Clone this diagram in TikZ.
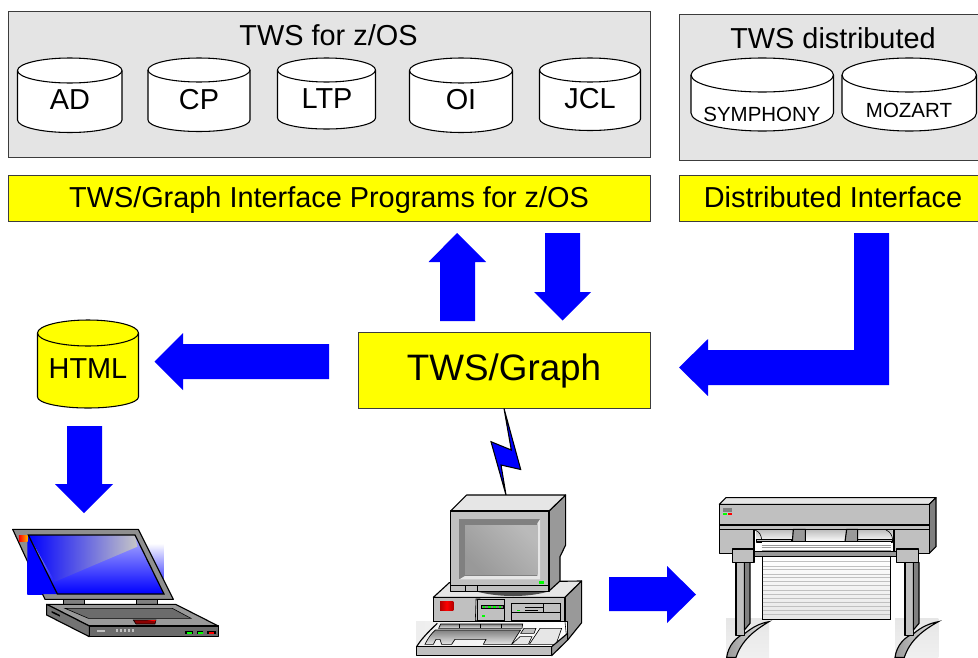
\documentclass[tikz,border=0pt]{standalone}
\usepackage{fontspec}
\setmainfont{Liberation Sans}
\usetikzlibrary{fit}
\definecolor{boxgray}{HTML}{E4E4E4}
\definecolor{bluearrow}{HTML}{0000FF}
\definecolor{brightyellow}{RGB}{255,255,0}
\definecolor{edge}{HTML}{3C3C3C}
\definecolor{faceL}{HTML}{E6E6E6}
\definecolor{faceM}{HTML}{C0C0C0}
\definecolor{faceD}{HTML}{999999}
\tikzset{
  panel/.style={draw=edge,line width=.7pt,fill=boxgray,inner sep=0pt},
  band/.style={draw=edge,line width=.7pt,fill=brightyellow,inner sep=0pt},
  lab/.style={anchor=base,inner sep=0pt,text=black,font=\fontsize{21.65}{24}\selectfont},
  biglab/.style={anchor=base,inner sep=0pt,text=black,font=\fontsize{27.6}{30}\selectfont},
  smalllab/.style={anchor=base,inner sep=0pt,text=black,font=\fontsize{15.35}{18}\selectfont},
  blockarrow/.style={fill=bluearrow,draw=none},
  hw/.style={draw=black,line width=.85pt,line join=round},
  thin hw/.style={draw=black,line width=.45pt},
}
\newcommand{\disc}[7]{% x1 x2 top mid sidebottom bottom fill
  \pgfmathsetmacro{\xm}{(#1+#2)/2}
  \pgfmathsetmacro{\kx}{.5*(#2-#1)*.55}
  \pgfmathsetmacro{\ka}{#4-.55*(#4-#3)}
  \pgfmathsetmacro{\kb}{#4+.55*(#4-#3)}
  \pgfmathsetmacro{\eb}{2*#4-#3}
  \pgfmathsetmacro{\kc}{#5+.55*(#6-#5)}
  \path[draw=black,line width=.8pt,fill=#7]
    (#1,#4) .. controls (#1,\ka) and (\xm-\kx,#3) .. (\xm,#3)
    .. controls (\xm+\kx,#3) and (#2,\ka) .. (#2,#4)
    -- (#2,#5) .. controls (#2,\kc) and (\xm+\kx,#6) .. (\xm,#6)
    .. controls (\xm-\kx,#6) and (#1,\kc) .. (#1,#5) -- cycle;
  \path[draw=black,line width=.8pt]
    (#1,#4) .. controls (#1,\kb) and (\xm-\kx,\eb) .. (\xm,\eb)
    .. controls (\xm+\kx,\eb) and (#2,\kb) .. (#2,#4);
}
\begin{document}
\begin{tikzpicture}[x=.75pt,y=-.75pt]
\useasboundingbox (0,0) rectangle (978,657);
\clip (0,0) rectangle (978,657);
% panels
\node[panel,fit={(8.5,11.5)(650,157)}] (zos) {};
\node[panel,fit={(679,14)(990,160)}] (dist) {};
\node[band,fit={(8.5,175)(650,221)}] (ifz) {};
\node[band,fit={(679,175)(990,221)}] (ifd) {};
\node[band,fit={(358,332)(650,408)}] (graph) {};
% discs
\disc{17.5}{122}{58}{70.5}{120}{132.5}{white}
\disc{148}{250}{58}{70}{120}{131.5}{white}
\disc{277.5}{375.5}{58}{70}{118}{129}{white}
\disc{409.5}{512.5}{58}{70.5}{120}{132.5}{white}
\disc{539.5}{640.5}{58}{70}{119}{130.5}{white}
\disc{691}{833.5}{58}{75}{113}{131}{white}
\disc{842}{976.5}{58}{75}{113}{131}{white}
\disc{37.5}{138.5}{320}{333}{397}{408}{brightyellow}
% labels
\node[lab] (tzos) at (328.5,45) {TWS for z/OS};
\node[lab] (tdist) at (833,48) {TWS distributed};
\node[lab] (ad) at (70,109) {AD};
\node[lab] (cp) at (199,109) {CP};
\node[lab] (ltp) at (327,108) {LTP};
\node[lab] (oi) at (461,109) {OI};
\node[lab] (jcl) at (590,108) {JCL};
\node[smalllab] (sym) at (762,121) {SYMPHONY};
\node[smalllab] (moz) at (909,117) {MOZART};
\node[lab] (tifz) at (329,207) {TWS/Graph Interface Programs for z/OS};
\node[lab] (tifd) at (833,207) {Distributed Interface};
\node[biglab] (tgraph) at (504,380) {TWS/Graph};
\node[lab] (html) at (88,378) {HTML};
% block arrows
\fill[blockarrow] (457,233) -- (486,262) -- (475,262) -- (475,321) -- (440,321) -- (440,262) -- (428.5,262) -- cycle;
\fill[blockarrow] (545,233) -- (580,233) -- (580,292) -- (591,292) -- (562.5,320.5) -- (534,292) -- (545,292) -- cycle;
\fill[blockarrow] (854,233) -- (889,233) -- (889,385) -- (708,385) -- (708,396) -- (679,367.5) -- (708,339) -- (708,350) -- (854,350) -- cycle;
\fill[blockarrow] (329,344) -- (329,379) -- (183,379) -- (183,390) -- (154.5,361.5) -- (183,333) -- (183,344) -- cycle;
\fill[blockarrow] (67,426) -- (102,426) -- (102,484) -- (113,484) -- (84,513) -- (55,484) -- (67,484) -- cycle;
\fill[blockarrow] (609,577) -- (667,577) -- (667,566) -- (696,594.5) -- (667,623) -- (667,611) -- (609,611) -- cycle;
% lightning
\path[draw=black,line width=.8pt,fill=bluearrow,line join=miter] (504,408.5) -- (511.3,450) -- (491,441.7) -- (506,495) -- (501,465) -- (520.7,469.5) -- cycle;
% laptop
\begin{scope}[shift={(0,510)},scale=1/3]
  \shade[top color=white,bottom color=bluearrow] (82,100) rectangle (492,252);
  \fill[bluearrow] (82,75) rectangle (172,252);
  \path[hw,fill=faceD!110] (38,58) -- (415,58) -- (520,268) -- (135,268) -- cycle;
  \fill[bluearrow] (82,75) -- (85,75) -- (172,252) -- (82,252) -- cycle;
  \shade[top color=white!70!bluearrow,middle color=bluearrow!50!white,bottom color=bluearrow] (85,75) -- (405,75) -- (492,252) -- (172,252) -- cycle;
  \shade[left color=bluearrow,right color=faceM!90!white] (85,75) -- (405,75) -- (412,110) -- (165,215) -- cycle;
  \path[draw=black,line width=.9pt] (85,75) -- (405,75) -- (492,252) -- (172,252) -- cycle;
  \shade[left color=red,right color=orange!60!yellow] (57,75) rectangle (83,93);
  \path[hw,fill=gray] (190,268) rectangle (253,283);
  \path[hw,fill=gray] (410,268) rectangle (472,283);
  \path[hw,fill=faceD] (140,283) -- (527,283) -- (655,348) -- (268,348) -- cycle;
  \path[hw,fill=gray!90!black] (140,283) -- (268,348) -- (268,380) -- (140,315) -- cycle;
  \path[hw,fill=gray!85!black] (268,348) rectangle (655,380);
  \path[thin hw,fill=gray!85!black] (195,295) -- (517,295) -- (573,325) -- (265,325) -- cycle;
  \path[thin hw,fill=red!55!black] (400,330) -- (468,330) -- (465,342) -- (408,342) -- cycle;
  \fill[red] (440,330) -- (468,330) -- (465,334) -- cycle;
  \fill[black] (155,303) -- (180,315) -- (180,320) -- (155,308) -- cycle;
  \fill[faceM] (291,361) rectangle (314,365);
  \foreach \kx in {347,359,371,383,395}{\fill[faceM] (\kx,358) rectangle (\kx+7,367);}
  \fill[black] (555,362) rectangle (648,373);
  \fill[gray!85!black] (578,364) rectangle (590,372);
  \fill[gray!85!black] (610,364) rectangle (622,372);
  \fill[green] (562,365) rectangle (576,371);
  \fill[green] (595,365) rectangle (608,371);
  \fill[red] (628,365) rectangle (641,371);
\end{scope}
% computer
\begin{scope}[shift={(400,400)},scale=1/3]
  \path[hw,fill=faceL] (100,592) -- (148,548) -- (545,543) -- (495,592) -- cycle;
  \path[hw,fill=faceD] (495,592) -- (545,543) -- (545,668) -- (503,720) -- (495,720) -- cycle;
  \path[hw,fill=faceM] (100,592) rectangle (495,665);
  \shade[left color=red!70!black,right color=red!70!black,middle color=red] (120,604) rectangle (160,630);
  \path[thin hw,fill=faceM] (228,597) -- (240,597) -- (232,662) -- (226,662) -- cycle;
  \path[thin hw,fill=faceM] (232,597) rectangle (312,662);
  \path[thin hw,fill=gray] (244,616) rectangle (310,626);
  \foreach \kx in {248,264,280,296}{\fill[green] (\kx,618) rectangle (\kx+8,624);}
  \fill[green] (246,646) rectangle (254,650);
  \path[thin hw,fill=faceM] (334,610) rectangle (480,662);
  \path[thin hw] (334,637) -- (480,637) (431,610) -- (431,637);
  \path[thin hw] (375,622) -- (430,622) (375,630) -- (415,630);
  \fill[green] (350,629) rectangle (360,633);
  % monitor
  \path[hw,fill=faceD] (447,333) -- (497,285) -- (497,435) -- (480,470) -- (480,543) -- (447,573) -- cycle;
  \path[hw,fill=faceL] (152,333) -- (200,285) -- (497,285) -- (447,333) -- cycle;
  \path[hw,fill=faceM] (152,333) rectangle (447,575);
  \fill[gray] (178,358) rectangle (420,538);
  \fill[faceL] (178,538) -- (420,538) -- (420,358) -- (412,370) -- (412,528) -- (195,528) -- cycle;
  \shade[shading=axis,left color=faceD,middle color=faceL!90!gray,right color=faceM!90!gray,shading angle=135] (195,375) rectangle (412,522);
  \fill[green] (417,543) rectangle (432,552);
  \path[thin hw] (152,557) -- (447,557) (197,557) -- (197,575) (232,557) -- (232,575);
  \fill[gray!60!black] (235,576) .. controls (300,592) and (380,592) .. (440,576) -- cycle;
  % keyboard
  \shade[left color=faceL!70!white,right color=white] (48,665) rectangle (500,738);
  \path[hw] (100,665) -- (503,665) -- (503,720);
  \path[thin hw] (495,665) -- (500,715);
  \shade[draw=black,line width=.5pt,top color=gray,bottom color=faceL] (122,672) -- (368,672) -- (366,685) -- (116,685) -- cycle;
  \foreach \kx in {178,240,305}{\path[thin hw] (\kx,672) -- (\kx,685);}
  \shade[draw=black,line width=.5pt,top color=gray,bottom color=faceL]
    (75,733) .. controls (85,712) and (95,700) .. (106,690) -- (362,690) .. controls (352,705) and (342,720) .. (335,733)
    -- (250,733) -- (258,718) -- (165,718) -- (155,733) -- (125,733) -- (120,718) -- (108,718) -- (100,733) -- cycle;
  \path[thin hw,fill=faceM] (372,685) -- (408,685) -- (402,700) -- (362,700) -- cycle;
  \path[thin hw,fill=faceL] (360,710) -- (396,710) -- (385,733) -- (335,733) -- cycle;
  \path[thin hw,fill=faceL] (420,685) -- (485,685) -- (468,733) -- (388,733) -- cycle;
  \path[hw] (50,740) .. controls (62,720) and (80,700) .. (112,670);
  \path[hw,fill=faceD] (455,740) -- (503,700) -- (503,720) -- (455,767) -- cycle;
  \path[hw,fill=faceM] (50,740) rectangle (455,767);
\end{scope}
% plotter
\begin{scope}[shift={(700,480)},scale=1/3]
  \shade[top color=faceL,bottom color=faceL!60!white] (78,415) rectangle (207,532);
  \shade[top color=faceL,bottom color=faceL!60!white] (585,415) rectangle (715,532);
  \path[hw,fill=faceL] (58,73) -- (78,53) -- (708,53) -- (688,73) -- cycle;
  \path[hw,fill=gray] (688,73) -- (708,53) -- (708,200) -- (688,220) -- cycle;
  \path[hw,fill=faceM] (58,73) rectangle (688,135);
  \path[hw,fill=faceM] (58,135) -- (688,135) -- (688,220) -- (582,220) -- (582,148) -- (162,148) -- (162,220) -- (58,220) -- cycle;
  \path[hw] (58,148) -- (688,148);
  \fill[gray] (68,83) rectangle (95,97);
  \fill[green] (69,98) rectangle (82,104);
  \fill[red] (83,98) rectangle (96,104);
  \shade[top color=faceM,bottom color=white] (170,150) rectangle (578,186);
  \path[thin hw] (165,150) .. controls (178,155) and (184,165) .. (185,180) (578,180) .. controls (577,165) and (570,155) .. (558,150);
  \path[hw,fill=faceM] (170,178) rectangle (276,186);
  \path[hw,fill=faceM] (473,178) rectangle (578,186);
  \path[hw] (276,186) -- (473,186);
  \path[hw,fill=faceD] (280,148) -- (316,148) -- (316,185) -- (277,185) -- cycle;
  \path[hw,fill=faceD] (440,148) -- (473,148) -- (473,185) -- (435,185) -- cycle;
  \fill[white] (185,187) rectangle (572,215);
  \foreach \ky in {195,203,210}{\path[draw=faceD,line width=.4pt] (185,\ky) -- (572,\ky);}
  \shade[draw=black,top color=white,bottom color=faceL] (187,230) rectangle (572,418);
  \foreach \ky in {245,258,268,282,292,305,316,330,342,356,368,380,392,404}{\path[draw=faceM,line width=.5pt] (188,\ky) -- (571,\ky);}
  \path[hw,fill=faceD] (160,215) rectangle (595,230);
  % left leg
  \shade[draw=black,line width=.85pt,left color=faceD,right color=faceL] (80,532) .. controls (85,495) and (110,470) .. (135,460) .. controls (160,440) and (180,430) .. (207,425) .. controls (165,450) and (125,480) .. (108,532) -- cycle;
  \path[hw,fill=faceM] (108,247) rectangle (133,467);
  \path[hw,fill=gray] (133,247) -- (150,247) -- (150,430) -- (133,450) -- cycle;
  \path[hw,fill=faceM] (98,207) rectangle (162,247);
  % right leg
  \shade[draw=black,line width=.85pt,left color=faceD,right color=faceL] (585,532) .. controls (590,495) and (615,470) .. (642,460) .. controls (665,440) and (690,430) .. (715,425) .. controls (670,450) and (630,480) .. (613,532) -- cycle;
  \path[hw,fill=faceM] (615,247) rectangle (640,467);
  \path[hw,fill=gray] (640,247) -- (657,247) -- (657,430) -- (640,450) -- cycle;
  \path[hw,fill=faceM] (590,207) rectangle (655,247);
\end{scope}
\end{tikzpicture}
\end{document}
